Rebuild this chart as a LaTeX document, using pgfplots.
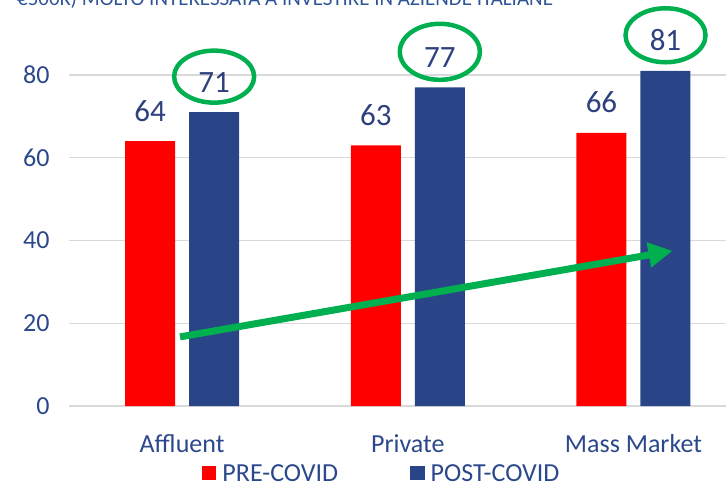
\documentclass[border=0pt]{standalone}
\usepackage{pgfplots}
\pgfplotsset{compat=1.18}
\usepackage{fontspec}
\setmainfont{Carlito}
\usetikzlibrary{arrows.meta}
\definecolor{barred}{RGB}{255,0,0}
\definecolor{barblue}{RGB}{42,69,135}
\definecolor{valtxt}{RGB}{46,64,125}
\definecolor{ticktxt}{RGB}{44,72,140}
\definecolor{gridc}{RGB}{217,217,217}
\definecolor{grn}{RGB}{0,176,80}
\definecolor{titletxt}{RGB}{47,85,151}
\begin{document}
\begin{tikzpicture}
\useasboundingbox (-69pt,-79pt) rectangle (657pt,406pt);
\begin{axis}[
  at={(0,0)}, anchor=south west,
  scale only axis, width=657pt, height=372.4pt,
  clip=false,
  xmin=-0.501, xmax=2.41, ymin=0, ymax=90,
  ybar=14pt, bar width=50pt,
  axis line style={draw=none},
  major tick style={draw=none},
  ymajorgrids, grid style={gridc, line width=1.2pt},
  ytick={0,20,40,60,80},
  xtick={0,1,2}, xticklabels={Affluent,Private,Mass Market},
  /pgf/number format/assume math mode=true,
  yticklabel style={font=\fontsize{26}{26}\selectfont, text=ticktxt, anchor=east, xshift=-16pt},
  xticklabel style={font=\fontsize{26}{26}\selectfont, text=ticktxt, anchor=base, yshift=-42pt},
  nodes near coords,
  every node near coord/.append style={font=\fontsize{31}{31}\selectfont, text=valtxt, anchor=base, yshift=20pt, inner sep=0pt},
  legend columns=2,
  legend style={draw=none, fill=none, at={(0.476,-0.181)}, anchor=center,
    font=\fontsize{26}{26}\selectfont, text=ticktxt,
    /tikz/every odd column/.append style={column sep=4pt},
    /tikz/every even column/.append style={column sep=70pt},
    inner sep=0pt},
  legend image code/.code={\path[#1,draw=none] (0pt,-7pt) rectangle (14.5pt,7pt);},
]
\addplot[fill=barred, draw=none] coordinates {(0,64) (1,63) (2,66)};
\addplot[fill=barblue, draw=none] coordinates {(0,71) (1,77) (2,81)};
\legend{PRE-COVID, POST-COVID}
\draw[-{Triangle[length=24pt,width=24pt]}, line width=7pt, grn] (axis cs:-0.009,16.7) -- (axis cs:2.173,37.5);
\draw[grn, line width=4.5pt] (axis cs:0.142,79.6) ellipse [x radius=40pt, y radius=26pt];
\draw[grn, line width=4.5pt] (axis cs:1.142,85.6) ellipse [x radius=40pt, y radius=28pt];
\draw[grn, line width=4.5pt] (axis cs:2.142,89.6) ellipse [x radius=40pt, y radius=27pt];
\end{axis}
\node[anchor=base west, inner sep=0pt, font=\fontsize{21}{21}\selectfont, text=titletxt] at (-52pt,400pt) {€500K) MOLTO INTERESSATA A INVESTIRE IN AZIENDE ITALIANE};
\end{tikzpicture}
\end{document}
